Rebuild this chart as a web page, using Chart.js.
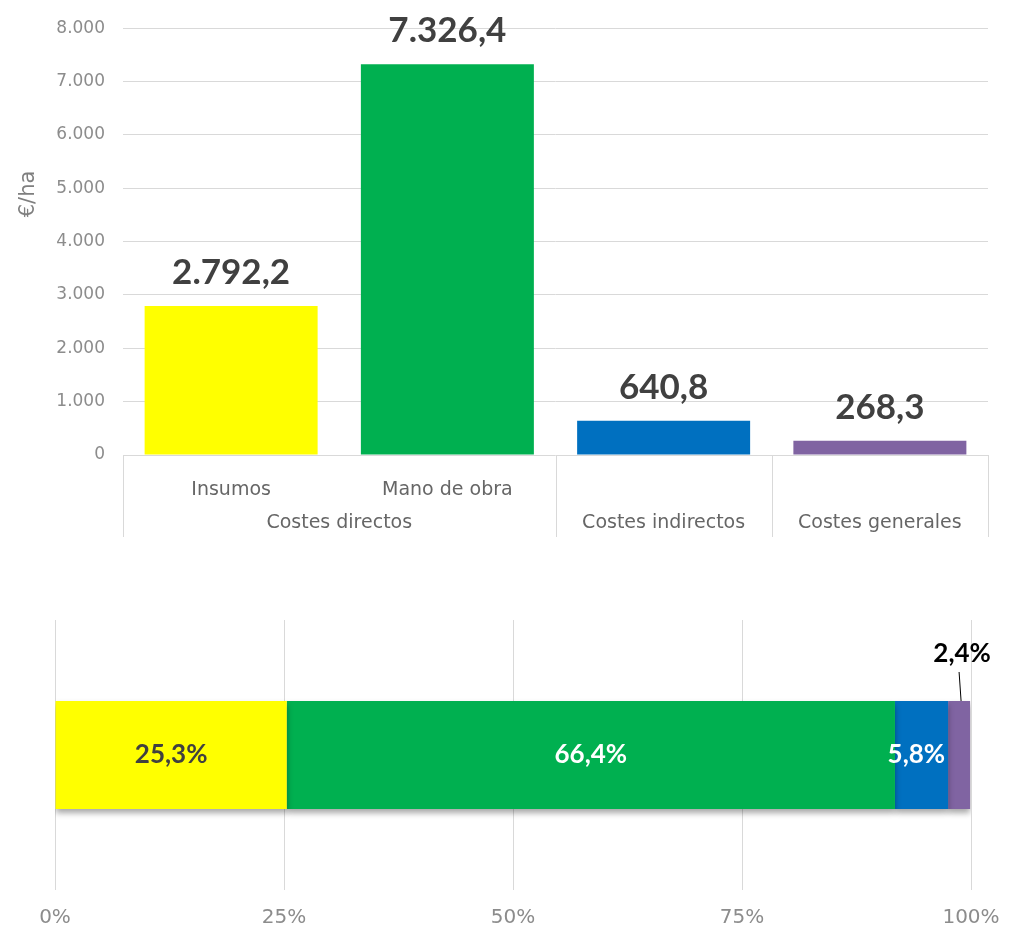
<!DOCTYPE html>
<html>
<head>
<meta charset="utf-8">
<script src="https://cdn.jsdelivr.net/npm/chart.js@4.4.1/dist/chart.umd.min.js"></script>
<style>
  html, body { margin: 0; padding: 0; background: #fff; }
  #wrap { position: relative; width: 1010px; height: 933px; }
  #costChart { position: absolute; left: 0; top: 0; }
  #shareChart { position: absolute; left: 0; top: 580px; }
</style>
</head>
<body>
<div id="wrap">
  <canvas id="costChart" width="1010" height="545"></canvas>
  <canvas id="shareChart" width="1010" height="353"></canvas>
</div>
<script>
const THIN = '"DejaVu Sans", sans-serif';
const BOLD = 'Lato, "Open Sans", sans-serif';
const ITEMS = ['Insumos', 'Mano de obra', '', ''];
const GROUPS = ['Costes directos', 'Costes indirectos', 'Costes generales'];
const GROUP_SPANS = [2, 1, 1];
const VALUES = [2792.2, 7326.4, 640.8, 268.3];
const SHARES = [25.3, 66.4, 5.8, 2.4];
const SHARE_NAMES = ['Insumos', 'Mano de obra', 'Costes indirectos', 'Costes generales'];
const COLORS = ['#ffff00', '#00b050', '#0070c0', '#8064a2'];
const PCT_TICKS = [0, 25, 50, 75, 100];

// 7326.4 -> "7.326,4"
function fmt(v, dec) {
  const parts = v.toFixed(dec).split('.');
  parts[0] = parts[0].replace(/\B(?=(\d{3})+(?!\d))/g, '.');
  return parts.join(',');
}

// value labels over bars + grouped category axis
const costExtras = {
  id: 'costExtras',
  afterDatasetsDraw(chart) {
    const ctx = chart.ctx;
    const meta = chart.getDatasetMeta(0);
    ctx.save();
    ctx.fillStyle = '#404040';
    ctx.font = 'bold 35px ' + BOLD;
    ctx.textAlign = 'center';
    ctx.textBaseline = 'alphabetic';
    meta.data.forEach((bar, i) => {
      ctx.fillText(fmt(VALUES[i], 1), bar.x, bar.y - 22);
    });
    ctx.restore();
  },
  afterDraw(chart) {
    const ctx = chart.ctx;
    const x = chart.scales.x;
    const area = chart.chartArea;
    const half = (x.getPixelForValue(1) - x.getPixelForValue(0)) / 2;
    ctx.save();
    ctx.strokeStyle = '#d9d9d9';
    ctx.lineWidth = 1;
    ctx.fillStyle = '#666666';
    ctx.font = '19px ' + THIN;
    ctx.textAlign = 'center';
    ctx.textBaseline = 'middle';
    let start = 0;
    const edge = px => {
      ctx.beginPath();
      ctx.moveTo(Math.round(px) + 0.5, area.bottom);
      ctx.lineTo(Math.round(px) + 0.5, area.bottom + 82);
      ctx.stroke();
    };
    edge(x.getPixelForValue(0) - half);
    GROUPS.forEach((g, gi) => {
      const end = start + GROUP_SPANS[gi] - 1;
      const l = x.getPixelForValue(start) - half;
      const r = x.getPixelForValue(end) + half;
      edge(r);
      ctx.fillText(g, (l + r) / 2, area.bottom + 68);
      start = end + 1;
    });
    // y axis title
    ctx.translate(29, 194);
    ctx.rotate(-Math.PI / 2);
    ctx.fillStyle = '#7f7f7f';
    ctx.font = '21px ' + THIN;
    ctx.fillText('€/ha', 0, 0);
    ctx.restore();
  }
};

new Chart(document.getElementById('costChart'), {
  type: 'bar',
  data: {
    labels: ITEMS,
    datasets: [{ data: VALUES, backgroundColor: COLORS, borderWidth: 0, barPercentage: 0.8, categoryPercentage: 1 }]
  },
  options: {
    responsive: false,
    animation: false,
    devicePixelRatio: 1,
    layout: { padding: { top: 26, right: 22, left: 0, bottom: 0 } },
    plugins: { legend: { display: false }, tooltip: { enabled: false } },
    scales: {
      y: {
        min: 0, max: 8000,
        ticks: { stepSize: 1000, padding: 18, color: '#8c8c8c', font: { size: 17, family: THIN }, callback: v => fmt(v, 0) },
        grid: { color: '#d9d9d9', drawTicks: false },
        border: { display: false },
        afterFit: s => { s.width = 123; }
      },
      x: {
        ticks: { padding: 16, color: '#666666', font: { size: 19, family: THIN }, maxRotation: 0 },
        grid: { display: false },
        border: { display: false },
        afterFit: s => { s.height = 90; }
      }
    }
  },
  plugins: [costExtras]
});

// share labels + soft shadow under the stacked bar
const shareExtras = {
  id: 'shareExtras',
  beforeDatasetsDraw(chart) {
    chart.ctx.save();
    chart.ctx.shadowColor = 'rgba(0,0,0,0.35)';
    chart.ctx.shadowBlur = 6;
    chart.ctx.shadowOffsetY = 4;
  },
  afterDatasetsDraw(chart) {
    const ctx = chart.ctx;
    ctx.restore();
    ctx.save();
    ctx.font = 'bold 26px ' + BOLD;
    ctx.textBaseline = 'middle';
    SHARES.forEach((v, i) => {
      const bar = chart.getDatasetMeta(i).data[0];
      const txt = fmt(v, 1) + '%';
      if (i === 0) {
        ctx.fillStyle = '#404040'; ctx.textAlign = 'center';
        ctx.fillText(txt, (bar.x + bar.base) / 2, bar.y);
      } else if (i === 1) {
        ctx.fillStyle = '#ffffff'; ctx.textAlign = 'center';
        ctx.fillText(txt, (bar.x + bar.base) / 2, bar.y);
      } else if (i === 2) {
        ctx.fillStyle = '#ffffff'; ctx.textAlign = 'right';
        ctx.fillText(txt, bar.x - 3, bar.y);
      } else {
        const cx = (bar.x + bar.base) / 2;
        const top = bar.y - bar.height / 2;
        ctx.strokeStyle = '#000'; ctx.lineWidth = 1;
        ctx.beginPath(); ctx.moveTo(cx, top - 29); ctx.lineTo(cx + 2, top); ctx.stroke();
        ctx.fillStyle = '#000'; ctx.textAlign = 'center';
        ctx.fillText(txt, cx + 3, top - 47);
      }
    });
    ctx.restore();
  }
};

new Chart(document.getElementById('shareChart'), {
  type: 'bar',
  data: {
    labels: [''],
    datasets: SHARES.map((v, i) => ({
      label: SHARE_NAMES[i], data: [v], backgroundColor: COLORS[i], borderWidth: 0,
      barPercentage: 0.4, categoryPercentage: 1
    }))
  },
  options: {
    indexAxis: 'y',
    responsive: false,
    animation: false,
    devicePixelRatio: 1,
    layout: { padding: { top: 40, right: 39, left: 55, bottom: 0 } },
    plugins: { legend: { display: false }, tooltip: { enabled: false } },
    scales: {
      x: {
        stacked: true, min: 0, max: 100,
        afterBuildTicks: s => { s.ticks = PCT_TICKS.map(v => ({ value: v })); },
        ticks: { padding: 16, color: '#8c8c8c', font: { size: 20, family: THIN }, callback: v => v + '%' },
        grid: { color: '#d9d9d9', drawTicks: false },
        border: { display: false },
        afterFit: s => { s.height = 43; s.paddingLeft = 0; s.paddingRight = 0; }
      },
      y: { stacked: true, display: false }
    }
  },
  plugins: [shareExtras]
});
</script>
</body>
</html>
